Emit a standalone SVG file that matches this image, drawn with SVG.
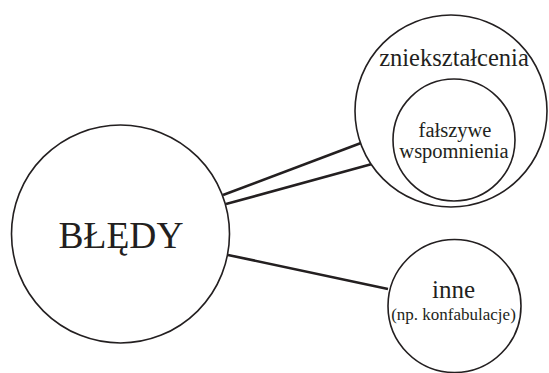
<svg xmlns="http://www.w3.org/2000/svg" width="549" height="373" viewBox="0 0 549 373">
  <style>
    .node { fill: #ffffff; stroke: #231f20; stroke-width: 1.6; }
    .link { stroke: #231f20; stroke-width: 2.6; fill: none; }
    .label { font-family: 'Liberation Serif', 'DejaVu Serif', serif; fill: #231f20; text-anchor: middle; }
  </style>
  <rect width="549" height="373" fill="#ffffff"/>

  <!-- connectors between the central circle and the two categories -->
  <g id="connectors">
    <line class="link" x1="223" y1="195" x2="361" y2="143"/>
    <line class="link" x1="226" y1="204" x2="372" y2="164"/>
    <line class="link" x1="228" y1="255" x2="388" y2="289"/>
  </g>

  <g id="bledy">
    <circle class="node" cx="120.5" cy="234" r="109"/>
    <text class="label" x="121" y="248" font-size="37.5">BŁĘDY</text>
  </g>

  <g id="znieksztalcenia">
    <circle class="node" cx="451" cy="111" r="96"/>
    <text class="label" x="454" y="66" font-size="24.5">zniekształcenia</text>
  </g>

  <g id="falszywe-wspomnienia">
    <circle class="node" cx="454" cy="140" r="61"/>
    <text class="label" x="455" y="137" font-size="20.5">fałszywe</text>
    <text class="label" x="454" y="158" font-size="20.5">wspomnienia</text>
  </g>

  <g id="inne">
    <circle class="node" cx="454.5" cy="306" r="66.5"/>
    <text class="label" x="453.5" y="298" font-size="25">inne</text>
    <text class="label" x="453.5" y="320" font-size="17">(np. konfabulacje)</text>
  </g>
</svg>
